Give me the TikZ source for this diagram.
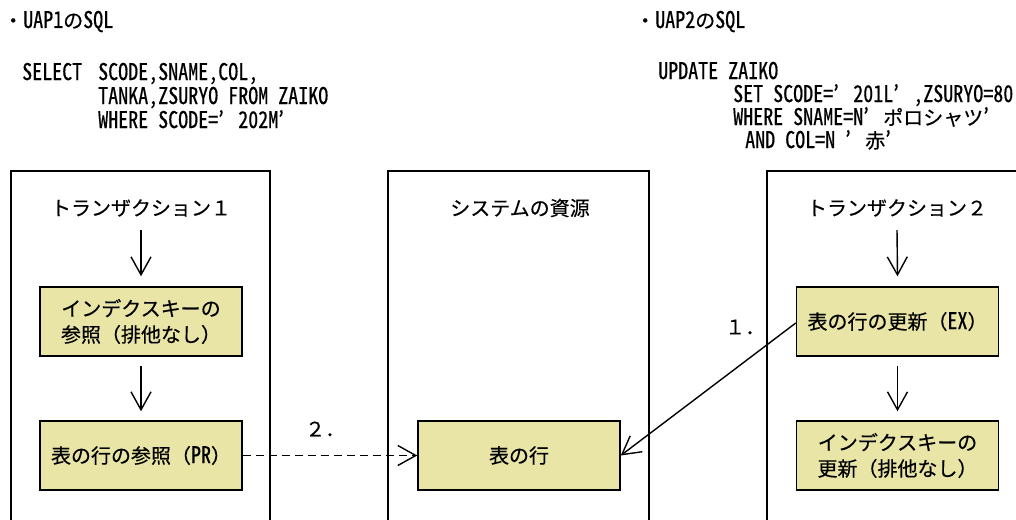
\documentclass[tikz,border=0pt]{standalone}
\usepackage{fontspec}
\setmainfont{Noto Sans CJK JP}[FakeBold=0.4]
\newfontfamily\hw{Noto Sans CJK JP}[RawFeature=+hwid, FakeStretch=0.87, FakeBold=0.4]
\usetikzlibrary{arrows.meta}
\definecolor{boxfill}{RGB}{232,229,166}
\newcommand\hsp{\hspace*{10pt}}
\newcommand\fq{\makebox[20pt][l]{’}}
\newcommand\jp{\fontsize{20}{25}\selectfont\rmfamily}
\newcommand\hwl[1]{{\fontsize{23}{25}\selectfont\hw #1}}
\tikzset{
  every node/.style={font=\fontsize{20}{26}\selectfont, text=black},
  sql/.style={anchor=base west, inner sep=0pt, font=\fontsize{23}{25}\selectfont\hw},
  frame/.style={draw=black, line width=1.5pt},
  box/.style={draw=black, fill=boxfill, line width=1.5pt, minimum width=202pt,
              minimum height=69pt, align=center, inner sep=0pt},
  title/.style={inner sep=0pt},
  varrow/.style={-{Straight Barb[length=18pt,width=20pt]}, line width=1.4pt},
  lbl/.style={inner sep=0pt, anchor=west},
}
\begin{document}
\begin{tikzpicture}[x=1pt,y=-1pt]
\useasboundingbox (0,0) rectangle (1016,519);
% SQL texts
\node[sql] (q1a) at (3,28) {{\jp ・}UAP1{\jp の}SQL};
\node[sql] (q1b) at (22,80) {\makebox[76pt][l]{SELECT}SCODE,SNAME,COL,};
\node[sql] (q1c) at (98,104) {TANKA,ZSURYO\hsp FROM\hsp ZAIKO};
\node[sql] (q1d) at (98,128) {WHERE\hsp SCODE=\fq 202M\fq};
\node[sql] (q2a) at (635,28) {{\jp ・}UAP2{\jp の}SQL};
\node[sql] (q2b) at (658,79) {UPDATE\hsp ZAIKO};
\node[sql] (q2c) at (733,102) {SET\hsp SCODE=\fq 201L\fq,ZSURYO=80};
\node[sql] (q2d) at (733,125) {WHERE\hsp SNAME=N\fq{\jp ポロシャツ}\fq};
\node[sql] (q2e) at (745,148) {AND\hsp COL=N\hsp\fq{\jp 赤}\fq};
% panels
\draw[frame] (11,522) -- (11,171) -- (270,171) -- (270,522);
\draw[frame] (388,522) -- (388,171) -- (649,171) -- (649,522);
\draw[frame] (767,522) -- (767,171) -- (1020,171);
% titles
\node[title] (t1) at (141,208) {トランザクション１};
\node[title] (t2) at (520,208) {システムの資源};
\node[title] (t3) at (897,208) {トランザクション２};
% boxes
\node[box] (b1) at (141,321.5) {インデクスキーの\\参照（排他なし）};
\node[box] (b2) at (141,455.5) {表の行の参照（\hwl{PR}）};
\node[box] (m1) at (519,455.5) {表の行};
\node[box] (r1) at (897.5,321.5) {表の行の更新（\hwl{EX}）};
\node[box] (r2) at (897.5,455.5) {インデクスキーの\\更新（排他なし）};
% vertical arrows
\draw[varrow] ([yshift=-22pt]t1.center) -- ([yshift=10pt]b1.north);
\draw[varrow] ([yshift=-9pt]b1.south) -- ([yshift=9pt]b2.north);
\draw[varrow] ([yshift=-22pt]t3.center) -- ([yshift=10pt]r1.north);
\draw[varrow] ([yshift=-9pt]r1.south) -- ([yshift=9pt]r2.north);
% cross arrows
\draw[varrow, dash pattern=on 8pt off 5pt] (b2.east) -- (m1.west);
\draw[varrow] ([yshift=-1.5pt]r1.west) -- (m1.east);
% labels
\node[lbl] (l1) at (725,327) {１．};
\node[lbl] (l2) at (305,429) {２．};
\end{tikzpicture}
\end{document}
